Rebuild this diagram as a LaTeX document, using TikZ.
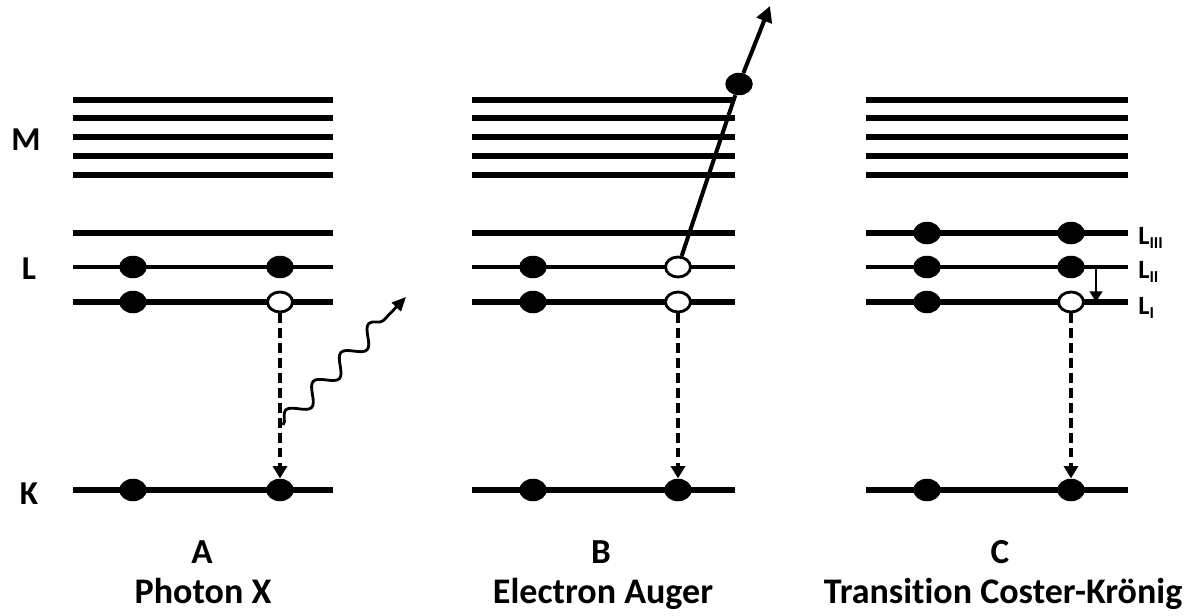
\documentclass[tikz,border=0pt]{standalone}
\usepackage{fontspec}
\setmainfont[Ligatures={NoCommon}]{Carlito}
\usetikzlibrary{shapes.geometric,arrows.meta,decorations.pathmorphing}
\begin{document}
\begin{tikzpicture}[x=0.02cm,y=-0.02cm,
  lvl/.style={line width=2.9pt},
  lvlthin/.style={line width=2.3pt},
  el/.style={ellipse,fill=black,minimum width=0.55cm,minimum height=0.45cm,inner sep=0pt},
  hole/.style={ellipse,fill=white,draw=black,line width=1.6pt,minimum width=0.5cm,minimum height=0.4cm,inner sep=0pt},
  trans/.style={line width=2.2pt,dash pattern=on 5.5pt off 3pt,-{Triangle[length=7pt,width=8pt]}},
  lab/.style={font=\bfseries\fontsize{19}{22}\selectfont,inner sep=0pt},
  letlab/.style={font=\bfseries\fontsize{20}{22}\selectfont,inner sep=0pt,anchor=base},
  namelab/.style={font=\bfseries\fontsize{20.5}{24}\selectfont,inner sep=0pt,anchor=base},
  sublab/.style={font=\bfseries\fontsize{15}{17}\selectfont,inner sep=0pt,anchor=west}]
\useasboundingbox (0,0) rectangle (1192,615);
% levels
\foreach \xa/\xb in {73/333,472/735,866/1128}{
  \foreach \y in {100,118,137,156,175}{\draw[lvl] (\xa,\y) -- (\xb,\y);}
  \draw[lvl] (\xa,233) -- (\xb,233);
  \draw[lvlthin] (\xa,267) -- (\xb,267);
  \draw[lvl] (\xa,302) -- (\xb,302);
  \draw[lvl] (\xa,490) -- (\xb,490);
}
% left labels
\node[lab] (lM) at (26,140) {M};
\node[lab] (lL) at (29,269) {L};
\node[lab] (lK) at (29,494) {K};
% Panel A
\node[el] (a1) at (133,267) {};
\node[el] (a2) at (280,267) {};
\node[el] (a3) at (133,302) {};
\node[hole] (aH) at (280,302) {};
\node[el] (a4) at (133,490) {};
\node[el] (aK) at (280,490) {};
\draw[trans] (aH.south) -- (aK.north);
\coordinate (aw) at (283,425);
\coordinate (aw2) at (406,297);
\draw[line width=1.6pt,-{Triangle[length=8pt,width=7pt]},decorate,decoration={snake,amplitude=0.17cm,segment length=0.8cm,post length=8pt}] (aw) -- (aw2);
% Panel B
\node[el] (b1) at (533,267) {};
\node[hole] (bH2) at (678,267) {};
\node[el] (b3) at (533,302) {};
\node[hole] (bH) at (678,302) {};
\node[el] (b4) at (533,490) {};
\node[el] (bK) at (678,490) {};
\draw[trans] (bH.south) -- (bK.north);
\node[el] (bE) at (739,84) {};
\coordinate (bend) at (770,6);
\draw[line width=2.3pt] (bH2) -- (bE);
\draw[line width=2.3pt,-{Triangle[length=9pt,width=9pt]}] (bE) -- (bend);
% Panel C
\node[el] (c1) at (927,233) {};
\node[el] (c2) at (1071,233) {};
\node[el] (c3) at (927,267) {};
\node[el] (c4) at (1071,267) {};
\node[el] (c5) at (927,302) {};
\node[hole] (cH) at (1071,302) {};
\node[el] (c6) at (927,490) {};
\node[el] (cK) at (1071,490) {};
\draw[trans] (cH.south) -- (cK.north);
\coordinate (cs) at (1096,267);
\coordinate (ce) at (1096,302);
\draw[line width=1.6pt,-{Triangle[length=6pt,width=7pt]}] (cs) -- (ce);
\node[sublab] (l3) at (1138,238) {L\raisebox{-0.35ex}{\fontsize{9.5}{10}\selectfont III}};
\node[sublab] (l2) at (1138,272) {L\raisebox{-0.35ex}{\fontsize{9.5}{10}\selectfont II}};
\node[sublab] (l1) at (1138,308) {L\raisebox{-0.35ex}{\fontsize{9.5}{10}\selectfont I}};
% bottom labels
\node[letlab] (tA) at (202,563) {A};
\node[letlab] (tB) at (601,563) {B};
\node[letlab] (tC) at (1000,563) {C};
\node[namelab] (nA) at (203,603) {Photon X};
\node[namelab] (nB) at (603,603) {Electron Auger};
\node[namelab] (nC) at (1003,603) {Transition Coster-Krönig};
\end{tikzpicture}
\end{document}
